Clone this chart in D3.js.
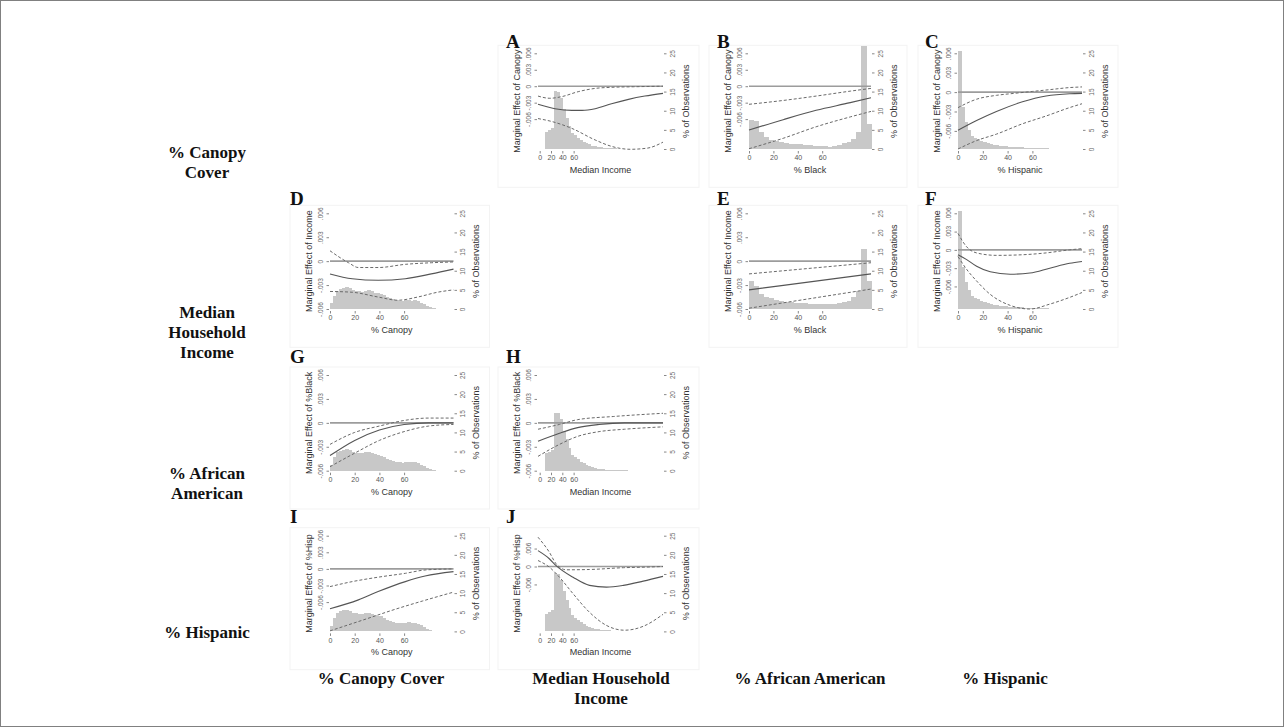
<!DOCTYPE html>
<html><head><meta charset="utf-8">
<script src="https://cdn.jsdelivr.net/npm/d3@7"></script>
<style>body{margin:0;background:#fff;} svg{display:block;}</style>
</head><body><svg id="c" width="1284" height="727"></svg>
<script>
// ---------------- DATA ----------------
const rowLabels = [["% Canopy","Cover"],["Median","Household","Income"],["% African","American"],["% Hispanic"]];
const colLabels = [["% Canopy Cover"],["Median Household","Income"],["% African American"],["% Hispanic"]];
const xTickValues = [0,20,40,60];
const rightTickValues = [0,5,10,15,20,25];
const leftTicksFive = [-0.006,-0.003,0,0.003,0.006];
const leftTicksThree = [-0.006,0,0.006];

// histograms (% of observations), bins: [start, width]
const incomeBins = [10,5];
const histIncome = [4.5,5.0,5.5,15.2,15.0,13.4,10.5,8.2,6.0,4.2,3.6,3.0,2.4,1.9,1.5,1.2,0.9,0.7,0.55,0.45,0.35,0.3,0.25,0.2,0.15,0.12,0.1,0.08,0.06,0.05];
const canopyBins = [0,2.5];
const histCanopy = [1.5,3.5,4.8,5.2,5.5,5.7,5.4,4.9,4.7,4.6,4.5,4.8,4.9,4.6,4.3,4.1,3.9,3.6,3.1,2.8,2.5,2.3,2.2,2.1,2.3,2.4,2.2,2.3,2.0,1.6,1.2,0.7,0.4,0.15];
const blackBins = [0,4];
const histBlackB = [7.5,7.2,4.5,3.2,2.3,2.0,1.7,1.5,1.4,1.4,1.2,1.1,1.0,0.9,0.9,0.8,0.5,0.9,1.1,1.5,1.9,2.7,4.5,27.0,6.5];
const histBlackE = [7.3,6.0,4.0,3.2,2.8,2.4,2.0,1.8,1.7,1.6,1.5,1.5,1.4,1.3,1.3,1.2,1.2,1.4,1.6,1.9,2.2,3.2,4.8,15.7,7.3];
const hispBins = [0,2.5];
const histHispanic = [25.5,11,7,5,3.5,3,2.5,2,1.8,1.5,1.3,1.1,1.0,0.9,0.8,0.7,0.6,0.5,0.5,0.4,0.4,0.3,0.3,0.3,0.2,0.2,0.2,0.15,0.15,0.1,0.1,0.1,0.1,0.1,0.05,0.05,0.05,0.05,0.05,0.05];

// marginal effects: [x, value]
const A_hi   = [[-3,-0.0018],[18,-0.0022],[39,-0.0019],[68,-0.0010],[98,-0.0004],[127,-0.0002],[166,-0.0001],[218,0]];
const A_mean = [[-3,-0.0033],[27,-0.0041],[57,-0.0044],[75,-0.0044],[98,-0.0041],[127,-0.0032],[157,-0.0024],[186,-0.0018],[218,-0.0013]];
const A_lo   = [[-3,-0.0059],[20,-0.0064],[57,-0.0077],[98,-0.0098],[128,-0.0110],[160,-0.0115],[190,-0.0113],[218,-0.0102]];

const B_hi   = [[0,-0.0033],[28,-0.0026],[55,-0.0018],[83,-0.0009],[100,-0.0004]];
const B_mean = [[0,-0.0080],[28,-0.0061],[55,-0.0044],[83,-0.0030],[100,-0.0021]];
const B_lo   = [[0,-0.0114],[28,-0.0095],[55,-0.0074],[83,-0.0056],[100,-0.0046]];

const C_hi   = [[0,-0.0024],[15,-0.0011],[31,-0.0005],[45,-0.0002],[60,0.0001],[75,0.0004],[90,0.0007],[100,0.0008]];
const C_mean = [[0,-0.0059],[15,-0.0044],[31,-0.0030],[52,-0.0015],[71,-0.0006],[90,-0.00025],[100,-0.0002]];
const C_lo   = [[0,-0.0088],[15,-0.0075],[31,-0.0065],[52,-0.0049],[71,-0.0037],[90,-0.0024],[100,-0.0018]];

const D_hi   = [[0,0.0013],[15,-0.0002],[23,-0.0008],[39,-0.0008],[61,-0.0004],[82,-0.0002],[100,-0.0001]];
const D_mean = [[0,-0.0016],[18,-0.0022],[39,-0.0024],[61,-0.0022],[82,-0.0016],[100,-0.0010]];
const D_lo   = [[0,-0.0038],[18,-0.0039],[39,-0.0045],[55,-0.0049],[71,-0.0045],[87,-0.0039],[100,-0.0036]];

const E_hi   = [[0,-0.0016],[50,-0.0009],[100,-0.0002]];
const E_mean = [[0,-0.0036],[50,-0.0026],[100,-0.0016]];
const E_lo   = [[0,-0.0059],[50,-0.0047],[100,-0.0035]];

const F_hi   = [[0,0.0027],[7,0.0005],[15,-0.0005],[31,-0.0009],[52,-0.0008],[71,-0.0005],[90,0],[100,0.0002]];
const F_mean = [[0,-0.0008],[7,-0.0016],[15,-0.0027],[26,-0.0036],[42,-0.0040],[58,-0.0038],[74,-0.0030],[90,-0.0022],[100,-0.0019]];
const F_lo   = [[0,-0.0011],[7,-0.0032],[15,-0.0051],[26,-0.0073],[42,-0.0091],[58,-0.0097],[74,-0.0089],[90,-0.0078],[100,-0.0070]];

const G_hi   = [[0,-0.0027],[20,-0.0012],[40,-0.0004],[60,0.0003],[80,0.0006],[100,0.0006]];
const G_mean = [[0,-0.0041],[20,-0.0022],[40,-0.0009],[60,-0.0002],[80,0],[100,0]];
const G_lo   = [[0,-0.0055],[20,-0.0038],[40,-0.0022],[60,-0.0011],[80,-0.0004],[100,-0.0002]];

const H_hi   = [[-3,-0.0008],[35,-0.0002],[67,0.0004],[131,0.0008],[218,0.0012]];
const H_mean = [[-3,-0.0023],[35,-0.0013],[67,-0.0006],[105,-0.0002],[150,0],[218,0]];
const H_lo   = [[-3,-0.0042],[35,-0.0027],[67,-0.0017],[105,-0.0011],[150,-0.0008],[218,-0.0005]];

const I_hi   = [[0,-0.0032],[18,-0.0023],[39,-0.0015],[61,-0.0008],[77,-0.0002],[100,0]];
const I_mean = [[0,-0.0072],[23,-0.0056],[39,-0.0041],[61,-0.0023],[77,-0.0013],[100,-0.0005]];
const I_lo   = [[0,-0.0112],[30,-0.0090],[50,-0.0075],[75,-0.0058],[100,-0.0042]];

const J_hi   = [[-3,0.0098],[17,0.0048],[29,0.0009],[47,-0.0011],[88,-0.0010],[148,-0.0004],[189,-0.0002],[218,0]];
const J_mean = [[-3,0.0053],[17,0.0026],[29,0.0003],[59,-0.0036],[88,-0.0063],[118,-0.0069],[148,-0.0063],[183,-0.0049],[218,-0.0033]];
const J_lo   = [[-3,0.0020],[17,-0.0002],[35,-0.0036],[59,-0.0091],[88,-0.0153],[118,-0.0197],[150,-0.0213],[183,-0.0200],[218,-0.0160]];

// ---------------- LAYOUT ----------------
const colL = [330,538,749,958], colR = [453.5,663,871,1082];
const rowT = [53.3,213.3,375,535.7], PH = 95.7;
const letterBase = [47.7,205,363.3,523.3];
const letterX = [290,506,717,925];
const xDomains = {canopy:[0,100], income:[-3,218], black:[0,100], hisp:[0,100]};
const xTitles = {canopy:"% Canopy", income:"Median Income", black:"% Black", hisp:"% Hispanic"};
const binsOf = {canopy:canopyBins, income:incomeBins, black:blackBins, hisp:hispBins};

const panels = [
  {id:"A",row:0,col:1,x:"income",y:"Marginal Effect of Canopy",hist:histIncome,dom:[-0.01145,0.006],ticks:leftTicksFive,hi:A_hi,mean:A_mean,lo:A_lo},
  {id:"B",row:0,col:2,x:"black",y:"Marginal Effect of Canopy",hist:histBlackB,dom:[-0.01145,0.006],ticks:leftTicksFive,hi:B_hi,mean:B_mean,lo:B_lo},
  {id:"C",row:0,col:3,x:"hisp",y:"Marginal Effect of Canopy",hist:histHispanic,dom:[-0.0088,0.006],ticks:leftTicksFive,hi:C_hi,mean:C_mean,lo:C_lo},
  {id:"D",row:1,col:0,x:"canopy",y:"Marginal Effect of Income",hist:histCanopy,dom:[-0.006,0.006],ticks:leftTicksFive,hi:D_hi,mean:D_mean,lo:D_lo},
  {id:"E",row:1,col:2,x:"black",y:"Marginal Effect of Income",hist:histBlackE,dom:[-0.006,0.006],ticks:leftTicksFive,hi:E_hi,mean:E_mean,lo:E_lo},
  {id:"F",row:1,col:3,x:"hisp",y:"Marginal Effect of Income",hist:histHispanic,dom:[-0.0097,0.006],ticks:leftTicksFive,hi:F_hi,mean:F_mean,lo:F_lo},
  {id:"G",row:2,col:0,x:"canopy",y:"Marginal Effect of %Black",hist:histCanopy,dom:[-0.006,0.006],ticks:leftTicksFive,hi:G_hi,mean:G_mean,lo:G_lo},
  {id:"H",row:2,col:1,x:"income",y:"Marginal Effect of %Black",hist:histIncome,dom:[-0.006,0.006],ticks:leftTicksFive,hi:H_hi,mean:H_mean,lo:H_lo},
  {id:"I",row:3,col:0,x:"canopy",y:"Marginal Effect of %Hisp",hist:histCanopy,dom:[-0.0113,0.006],ticks:leftTicksFive,hi:I_hi,mean:I_mean,lo:I_lo},
  {id:"J",row:3,col:1,x:"income",y:"Marginal Effect of %Hisp",hist:histIncome,dom:[-0.0217,0.0103],ticks:leftTicksThree,hi:J_hi,mean:J_mean,lo:J_lo}
];

const svg = d3.select("#c");
svg.append("rect").attr("x",0.5).attr("y",0.5).attr("width",1283).attr("height",726)
  .attr("fill","#fff").attr("stroke","#808080").attr("stroke-width",1);

const SANS = "'Liberation Sans', Arial, sans-serif";
const SERIF = "'Liberation Serif', 'Times New Roman', serif";
const fmt = v => v === 0 ? "0" : (v < 0 ? "-" : "") + String(+Math.abs(v).toFixed(4)).replace(/^0/, "");

// row labels
const rowLabelBase = [157.7,318,478.5,638];
rowLabels.forEach((lines,i)=>{
  lines.forEach((t,j)=>{
    svg.append("text").attr("x",207).attr("y",rowLabelBase[i]+j*20)
      .attr("text-anchor","middle").attr("font-family",SERIF).attr("font-weight","bold")
      .attr("font-size",17).attr("fill","#111").text(t);
  });
});
// column labels
const colLabelX = [381,601,810,1005];
colLabels.forEach((lines,i)=>{
  lines.forEach((t,j)=>{
    svg.append("text").attr("x",colLabelX[i]).attr("y",684+j*20)
      .attr("text-anchor","middle").attr("font-family",SERIF).attr("font-weight","bold")
      .attr("font-size",17).attr("fill","#111").text(t);
  });
});

panels.forEach(p=>{
  const L = colL[p.col], R = colR[p.col], T = rowT[p.row], B = T + PH;
  const g = svg.append("g");
  const x = d3.scaleLinear().domain(xDomains[p.x]).range([L,R]);
  const yL = d3.scaleLinear().domain(p.dom).range([B,T]);
  const yR = d3.scaleLinear().domain([0,25]).range([B,T]);

  // faint graph region
  g.append("rect").attr("x",L-40).attr("y",T-8).attr("width",R-L+76).attr("height",142)
    .attr("fill","none").attr("stroke","#f3f3f3").attr("stroke-width",1);

  // letter
  g.append("text").attr("x",letterX[p.col]).attr("y",letterBase[p.row])
    .attr("font-family",SERIF).attr("font-weight","bold").attr("font-size",19)
    .attr("fill","#111").text(p.id);

  // histogram
  const [b0,bw] = binsOf[p.x];
  g.append("g").attr("shape-rendering","crispEdges")
    .selectAll("rect").data(p.hist).enter().append("rect")
    .attr("x",(d,i)=>x(b0+i*bw)).attr("width",(d,i)=>x(b0+(i+1)*bw)-x(b0+i*bw)+0.6)
    .attr("y",d=>yR(d)).attr("height",d=>B-yR(d)).attr("fill","#c8c8c8");

  // zero line
  g.append("line").attr("x1",L).attr("x2",R).attr("y1",yL(0)).attr("y2",yL(0))
    .attr("stroke","#9c9c9c").attr("stroke-width",1.6);

  const line = d3.line().x(d=>x(d[0])).y(d=>yL(d[1])).curve(d3.curveMonotoneX);
  [p.hi,p.lo].forEach(arr=>{
    g.append("path").attr("d",line(arr)).attr("fill","none").attr("stroke","#6a6a6a")
      .attr("stroke-width",1).attr("stroke-dasharray","3,2");
  });
  g.append("path").attr("d",line(p.mean)).attr("fill","none").attr("stroke","#555")
    .attr("stroke-width",1.1);

  // left axis
  const la = g.append("g").attr("transform",`translate(${L-1},0)`)
    .call(d3.axisLeft(yL).tickValues(p.ticks).tickSize(2.5).tickFormat(fmt));
  la.select(".domain").remove();
  la.selectAll("line").attr("stroke","#888");
  la.selectAll("text").attr("x",0).attr("dy",0).attr("transform","translate(-6.5,0) rotate(-90)")
    .attr("text-anchor","middle").attr("font-family",SANS).attr("font-size",6.5).attr("fill","#666");

  // right axis
  const ra = g.append("g").attr("transform",`translate(${R+1},0)`)
    .call(d3.axisRight(yR).tickValues(rightTickValues).tickSize(2.5));
  ra.select(".domain").remove();
  ra.selectAll("line").attr("stroke","#888");
  ra.selectAll("text").attr("x",0).attr("dy",0).attr("transform","translate(10.5,0) rotate(-90)")
    .attr("text-anchor","middle").attr("font-family",SANS).attr("font-size",6.5).attr("fill","#666");

  // bottom axis
  const ba = g.append("g").attr("transform",`translate(0,${B+2})`)
    .call(d3.axisBottom(x).tickValues(xTickValues).tickSize(2.5).tickPadding(2));
  ba.select(".domain").remove();
  ba.selectAll("line").attr("stroke","#888");
  ba.selectAll("text").attr("font-family",SANS).attr("font-size",7).attr("fill","#555");

  // titles
  g.append("text").attr("transform",`translate(${L-18.5},${(T+B)/2}) rotate(-90)`)
    .attr("text-anchor","middle").attr("font-family",SANS).attr("font-size",9).attr("fill","#333").text(p.y);
  g.append("text").attr("transform",`translate(${R+25.5},${(T+B)/2}) rotate(-90)`)
    .attr("text-anchor","middle").attr("font-family",SANS).attr("font-size",9).attr("fill","#333").text("% of Observations");
  g.append("text").attr("x",(L+R)/2).attr("y",B+24).attr("text-anchor","middle")
    .attr("font-family",SANS).attr("font-size",9).attr("fill","#333").text(xTitles[p.x]);
});
</script></body></html>
